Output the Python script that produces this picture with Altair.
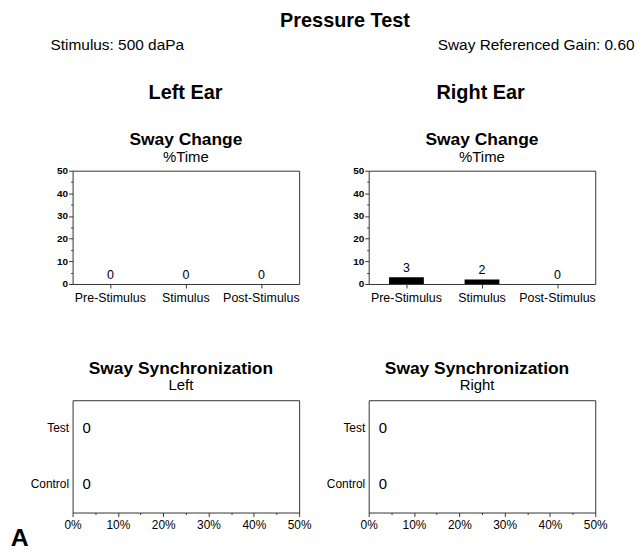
import altair as alt
import pandas as pd

FONT = "Liberation Sans"

phases = ["Pre-Stimulus", "Stimulus", "Post-Stimulus"]
left_change = [0, 0, 0]
right_change = [3, 2, 0]

sync_rows = ["Test", "Control"]
left_sync = [0, 0]
right_sync = [0, 0]

tick_values = [0, 5, 10, 15, 20, 25, 30, 35, 40, 45, 50]

major_tick = {"condition": {"test": "datum.value % 10 == 0", "value": 4}, "value": 2}


def change_chart(values):
    df = pd.DataFrame({"phase": phases, "value": values})
    base = alt.Chart(df).encode(
        x=alt.X(
            "phase:N",
            sort=phases,
            scale=alt.Scale(domain=phases, paddingInner=0, paddingOuter=0),
            axis=alt.Axis(title=None, labelAngle=0, tickSize=4, labelPadding=4,
                          labelFontSize=12.5, domain=False),
        ),
        y=alt.Y(
            "value:Q",
            scale=alt.Scale(domain=[0, 50], nice=False),
            axis=alt.Axis(title=None, values=tick_values,
                          labelExpr="datum.value % 10 == 0 ? datum.label : ''",
                          tickSize=major_tick, labelFontSize=10, labelFontWeight="bold",
                          labelPadding=1, labelOverlap=False, labelFlush=False,
                          domain=False, grid=False),
        ),
    )
    bars = base.mark_bar(color="black", size=35)
    labels = base.mark_text(baseline="bottom", dy=-2, fontSize=12.5, font=FONT,
                            color="black").encode(text="value:Q")
    return alt.layer(bars, labels).properties(
        width=228, height=114,
        title=alt.Title("Sway Change", subtitle="%Time", fontSize=17.5, fontWeight="bold",
                        subtitleFontSize=15, subtitlePadding=1, offset=1, frame="group",
                        anchor="middle"),
    )


def sync_chart(values, side):
    df = pd.DataFrame({"row": sync_rows, "value": values})
    base = alt.Chart(df).encode(
        y=alt.Y(
            "row:N",
            sort=sync_rows,
            scale=alt.Scale(domain=sync_rows, paddingInner=0, paddingOuter=0),
            axis=alt.Axis(title=None, ticks=False, labelPadding=4, labelFontSize=12,
                          domain=False),
        ),
        x=alt.X(
            "value:Q",
            scale=alt.Scale(domain=[0, 50], nice=False),
            axis=alt.Axis(title=None, values=tick_values,
                          labelExpr="datum.value % 10 == 0 ? datum.value + '%' : ''",
                          tickSize=major_tick, labelFontSize=12, labelPadding=3,
                          labelOverlap=False, labelFlush=False, domain=False, grid=False),
        ),
    )
    bars = base.mark_bar(color="black", size=20)
    labels = base.mark_text(align="left", baseline="middle", dx=10, fontSize=15, font=FONT,
                            color="black").encode(text="value:Q")
    return alt.layer(bars, labels).properties(
        width=228, height=113,
        title=alt.Title("Sway Synchronization", subtitle=side, fontSize=17.5,
                        fontWeight="bold", subtitleFontSize=15, subtitlePadding=1,
                        offset=7, frame="group", anchor="middle", dx=-5),
    )


left_ear = alt.vconcat(change_chart(left_change), sync_chart(left_sync, "Left"),
                       spacing=55).properties(
    title=alt.Title("Left Ear", fontSize=20, fontWeight="bold", offset=28,
                    anchor="middle", dx=15))
right_ear = alt.vconcat(change_chart(right_change), sync_chart(right_sync, "Right"),
                        spacing=55).properties(
    title=alt.Title("Right Ear", fontSize=20, fontWeight="bold", offset=28,
                    anchor="middle", dx=14))

left_col = alt.vconcat(left_ear).properties(
    title=alt.Title("Stimulus: 500 daPa", fontSize=15.5, fontWeight="normal",
                    anchor="start", offset=30, dx=21))
right_col = alt.vconcat(right_ear).properties(
    title=alt.Title("Sway Referenced Gain: 0.60", fontSize=15.5, fontWeight="normal",
                    anchor="end", offset=30, dx=27))

main = alt.hconcat(left_col, right_col, spacing=13).properties(
    title=alt.Title("Pressure Test", fontSize=20, fontWeight="bold", offset=7,
                    anchor="middle", dx=13))

chart = alt.vconcat(main).properties(
    title=alt.Title("A", orient="bottom", anchor="start", fontSize=25, fontWeight="bold",
                    offset=-5, dx=-19),
    padding={"left": 2, "top": 1, "right": 0, "bottom": 0},
).configure(font=FONT).configure_view(stroke="#333", strokeWidth=1).configure_axis(
    labelColor="black", tickColor="#333", labelFont=FONT
).configure_title(font=FONT, color="black", subtitleFont=FONT, subtitleColor="black")

chart.save("out.html", embed_options={"renderer": "svg", "actions": False})
